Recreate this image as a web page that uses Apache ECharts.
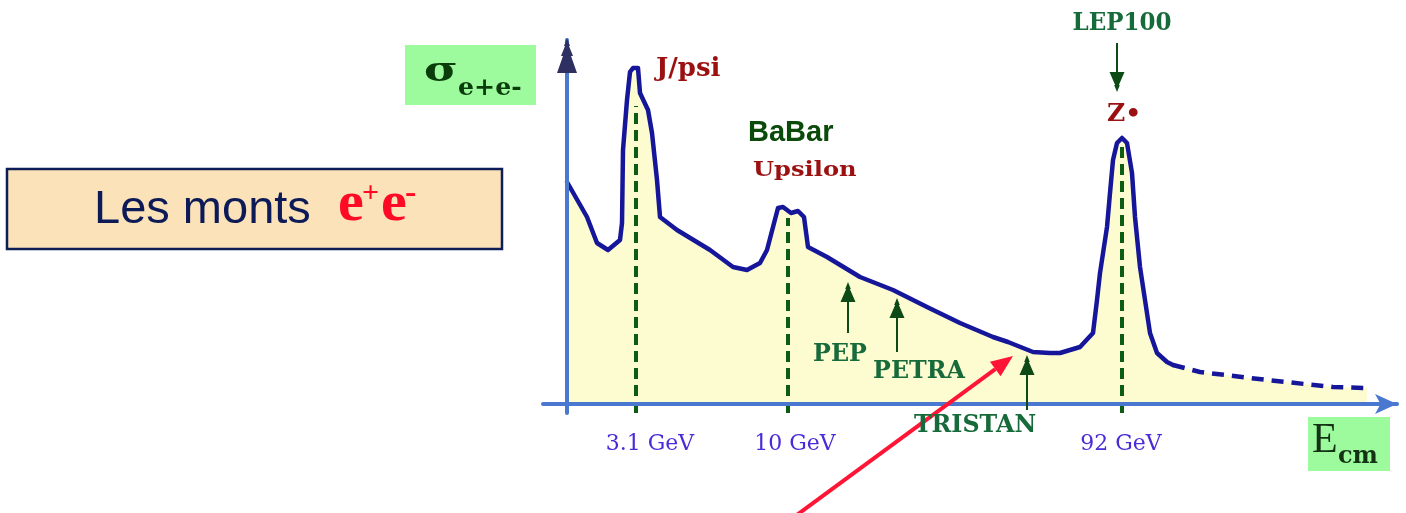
<!DOCTYPE html>
<html><head><meta charset="utf-8">
<script src="https://cdn.jsdelivr.net/npm/echarts@6/dist/echarts.min.js"></script>
<style>html,body{margin:0;padding:0;background:#fff}#c{width:1406px;height:513px}</style>
</head><body><div id="c"></div>
<script>
// Schematic e+e- cross-section curve (arbitrary units)
const curveX = [0, 20, 30, 41, 53, 55, 56, 60, 63, 66, 71, 73, 81, 85, 90, 93, 110, 143, 166, 180, 193, 200, 206, 211, 216, 224, 231, 237, 241, 260, 293, 326, 360, 393, 426, 441, 466, 483, 493, 513, 526, 530, 533, 540, 543, 546, 550, 555, 560, 565, 568, 573, 578, 583, 590, 600, 606];
const curveY = [222, 187, 161, 154, 164, 181, 254, 304, 332, 336, 336, 311, 294, 271, 224, 187, 174, 154, 137, 134, 141, 154, 177, 196, 197, 191, 193, 187, 157, 147, 127, 114, 97, 81, 67, 62, 52, 51, 51, 57, 71, 104, 131, 177, 211, 244, 261, 266, 261, 231, 187, 137, 104, 71, 51, 42, 39];
const tailX = [606, 633, 700, 766, 800];
const tailY = [39, 32, 24, 17, 16];

const peakNames = ['J/psi', 'Upsilon', 'Z•'];
const peakX = [69, 221, 555];
const peakLineTop = [298, 186, 257];

const tickValues = [83, 228, 554];
const tickLabels = ['3.1 GeV', '10 GeV', '92 GeV'];

const facilityNames = ['PEP', 'PETRA', 'TRISTAN', 'LEP100'];
const facilityX = [281, 330, 460, 550];
const facilityBase = [71, 52, -6, 361];
const facilityTip = [122, 106, 49, 312];

const X_MIN = -24, X_MAX = 830, Y_MIN = -9, Y_MAX = 364;

const zip = (xs, ys) => xs.map((x, i) => [x, ys[i]]);
const chart = echarts.init(document.getElementById('c'));

const ARROW_HEAD = 'path://M8,0 L11,7 L10,7 L16,20 L0,20 L6,7 L5,7 Z';
const HEAD_LEN = 20;

const series = [
  {
    type: 'line', data: zip(curveX, curveY), symbol: 'none', z: 2,
    lineStyle: { color: '#16169a', width: 4.5, join: 'round', cap: 'round' },
    areaStyle: { color: '#fdfcd0', opacity: 1 },
    markLine: {
      silent: true, animation: false,
      symbol: ['none', ARROW_HEAD], symbolSize: [15, HEAD_LEN],
      lineStyle: { color: '#0d4a16', width: 2, type: 'solid' },
      label: { show: false },
      data: facilityX.map((x, i) => {
        const dir = Math.sign(facilityTip[i] - facilityBase[i]);
        return [{ coord: [x, facilityBase[i]] }, { coord: [x, facilityTip[i] - dir * HEAD_LEN / 2] }];
      })
    }
  },
  {
    type: 'line', data: zip(tailX, tailY), symbol: 'none', z: 2,
    lineStyle: { color: '#16169a', width: 4.5, type: [12, 8] },
    areaStyle: { color: '#fdfcd0', opacity: 1 }
  }
];
peakX.forEach((x, i) => series.push({
  type: 'line', name: peakNames[i], data: [[x, Y_MIN], [x, peakLineTop[i]]], symbol: 'none', z: 3,
  lineStyle: { color: '#0d5c14', width: 4, type: [11, 6] }
}));

chart.setOption({
  animation: false,
  grid: { left: 543, right: 9, top: 40, bottom: 100, containLabel: false },
  xAxis: {
    type: 'value', min: X_MIN, max: X_MAX, z: 4,
    axisLine: { onZero: true, lineStyle: { color: '#4a78d0', width: 4 }, symbol: ['none', 'arrow'], symbolSize: [15, 22] },
    axisTick: { show: false }, splitLine: { show: false },
    axisLabel: {
      customValues: tickValues,
      formatter: v => { const k = tickValues.indexOf(v); return k >= 0 ? tickLabels[k] : ''; },
      color: '#4b2bd8', fontFamily: 'DejaVu Serif', fontSize: 22, margin: 20
    }
  },
  yAxis: {
    type: 'value', min: Y_MIN, max: Y_MAX, z: 4,
    axisLine: { show: true, onZero: true, lineStyle: { color: '#4a78d0', width: 4 } },
    axisTick: { show: false }, axisLabel: { show: false }, splitLine: { show: false }
  },
  series
});

// annotations
function T(text, x, y, o) {
  return {
    type: 'text', x: x, y: y, scaleX: o.sx || 1, z: 20,
    style: {
      text: text, x: 0, y: 0, fill: o.c, align: o.a || 'left', verticalAlign: 'middle',
      font: (o.w || 'normal') + ' ' + o.s + 'px ' + (o.f || '"DejaVu Serif"')
    }
  };
}
const axTop = chart.convertToPixel({ gridIndex: 0 }, [0, Y_MAX]);
const ax = axTop[0], ay = axTop[1] - 2;
const yArrow = [[0, 0], [3, 8], [2, 8], [6, 18], [4, 18], [10, 35], [-10, 35], [-4, 18], [-6, 18], [-2, 8], [-3, 8]]
  .map(p => [ax + p[0], ay + p[1]]);

// red pointer arrow
const tail = [790, 520], tip = [1013, 356];
const dx = tip[0] - tail[0], dy = tip[1] - tail[1], L = Math.hypot(dx, dy);
const ux = dx / L, uy = dy / L, hl = 22, hw = 9;
const bx = tip[0] - ux * hl, by = tip[1] - uy * hl;

const labelColorGreen = '#176b3b', labelColorRed = '#9b1010';

chart.setOption({
  graphic: [
    // title box
    { type: 'rect', shape: { x: 7, y: 169, width: 495, height: 80 }, style: { fill: '#fbe2b9', stroke: '#0d1d55', lineWidth: 2.5 }, z: 10 },
    T('Les monts', 94, 210, { s: 47, c: '#0c1a57', f: '"Liberation Sans", Arial' }),
    T('e', 338, 205, { s: 58, c: '#ff0a24', w: 'bold', f: '"Liberation Serif"' }),
    T('+', 362, 194, { s: 30, c: '#ff0a24', w: 'bold', f: '"Liberation Serif"' }),
    T('e', 381, 205, { s: 58, c: '#ff0a24', w: 'bold', f: '"Liberation Serif"' }),
    T('-', 405, 194, { s: 34, c: '#ff0a24', w: 'bold', f: '"Liberation Serif"' }),
    // sigma box
    { type: 'rect', shape: { x: 405, y: 45, width: 131, height: 60 }, style: { fill: '#9dfa9d' }, z: 10 },
    T('σ', 424, 72, { s: 34, c: '#0b3d0b', w: 'bold', sx: 1.35 }),
    T('e+e-', 458, 89, { s: 24, c: '#0b3d0b', w: 'bold', sx: 1.05 }),
    // E_cm box
    { type: 'rect', shape: { x: 1308, y: 417, width: 82, height: 54 }, style: { fill: '#9dfa9d' }, z: 10 },
    T('E', 1312, 441, { s: 42, c: '#143314', f: '"Liberation Serif"' }),
    T('cm', 1338, 457, { s: 24, c: '#143314', w: 'bold' }),
    // y axis arrow head
    { type: 'polygon', shape: { points: yArrow }, style: { fill: '#2e3062' }, z: 10 },
    // peak labels
    T(peakNames[0], 656, 69, { s: 26, c: labelColorRed, w: 'bold' }),
    T('BaBar', 748, 133, { s: 29, c: '#0a4a0a', w: 'bold', f: '"Liberation Sans", Arial' }),
    T(peakNames[1], 753, 171, { s: 21, c: labelColorRed, w: 'bold', sx: 1.15 }),
    T(peakNames[2], 1124, 114, { s: 25, c: labelColorRed, w: 'bold', a: 'center' }),
    // facility labels
    T(facilityNames[0], 840, 354, { s: 25, c: labelColorGreen, w: 'bold', a: 'center', sx: 0.95 }),
    T(facilityNames[1], 919, 371, { s: 25, c: labelColorGreen, w: 'bold', a: 'center', sx: 0.95 }),
    T(facilityNames[2], 975, 425, { s: 25, c: labelColorGreen, w: 'bold', a: 'center', sx: 0.95 }),
    T(facilityNames[3], 1122, 23, { s: 25, c: labelColorGreen, w: 'bold', a: 'center', sx: 0.92 }),
    // red pointer
    { type: 'line', shape: { x1: tail[0], y1: tail[1], x2: bx, y2: by }, style: { stroke: '#ff1535', lineWidth: 4 }, z: 15 },
    { type: 'polygon', shape: { points: [[tip[0], tip[1]], [bx - uy * hw, by + ux * hw], [bx + uy * hw, by - ux * hw]] }, style: { fill: '#ff1535' }, z: 15 }
  ]
});
</script>
</body></html>
